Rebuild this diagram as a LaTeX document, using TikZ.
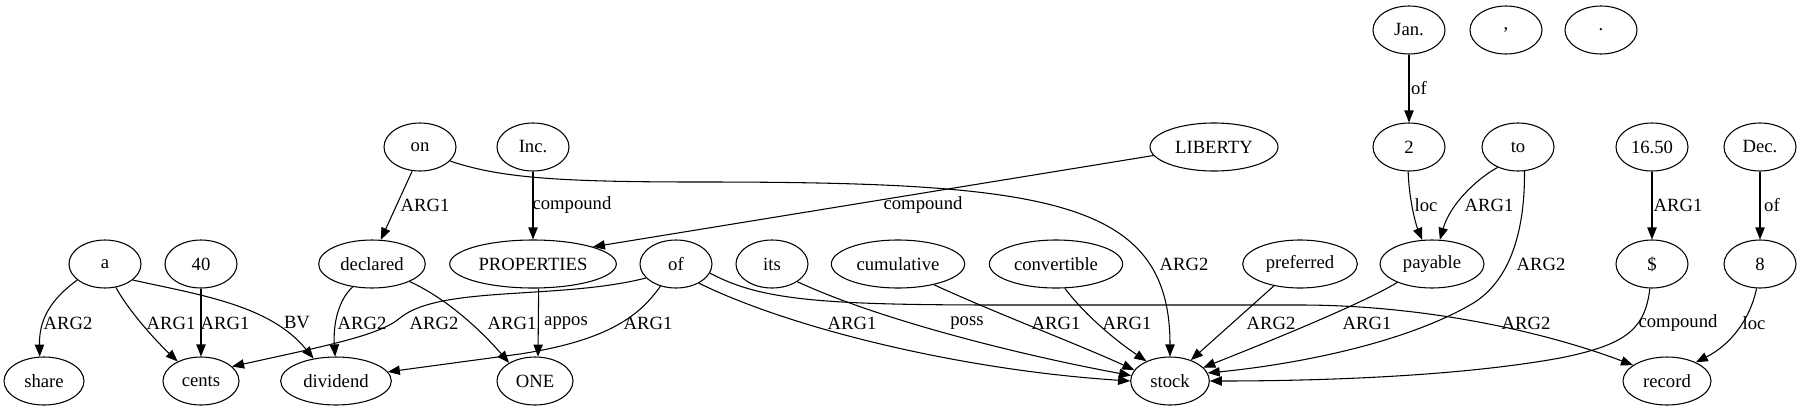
\documentclass[tikz,border=0pt]{standalone}
\usepackage{fontspec}
\setmainfont{Liberation Serif}
\usetikzlibrary{shapes.geometric,arrows.meta}
\begin{document}
\begin{tikzpicture}[x=0.75pt,y=-0.75pt,
  nd/.style={draw, ellipse, inner sep=0pt, minimum height=36pt, minimum width=54pt, line width=0.8pt, font=\fontsize{14}{16}\selectfont},
  wd/.style={minimum width=#1pt},
  conn/.style={line width=0.8pt, -{Triangle[length=9pt,width=7pt]}},
  lab/.style={inner sep=0pt, font=\fontsize{14}{16}\selectfont}]
\useasboundingbox (0,0) rectangle (1803,411);
% row 4
\node[nd] (jan) at (1409,30) {Jan.};
\node[nd] (comma) at (1506,30) {,};
\node[nd] (period) at (1601,30) {.};
% row 3
\node[nd] (on) at (420,147) {on};
\node[nd] (inc) at (533,147) {Inc.};
\node[nd,wd=96] (liberty) at (1214,147) {LIBERTY};
\node[nd] (two) at (1409,147) {2};
\node[nd] (to) at (1518,147) {to};
\node[nd] (n1650) at (1652,147) {16.50};
\node[nd] (dec) at (1760,147) {Dec.};
% row 2
\node[nd] (a) at (105,264) {a};
\node[nd] (forty) at (201,264) {40};
\node[nd,wd=80] (declared) at (372,264) {declared};
\node[nd,wd=125] (props) at (533,264) {PROPERTIES};
\node[nd] (of) at (676,264) {of};
\node[nd] (its) at (772,264) {its};
\node[nd,wd=100] (cumul) at (898,264) {cumulative};
\node[nd,wd=100] (conv) at (1056,264) {convertible};
\node[nd,wd=86] (pref) at (1300,264) {preferred};
\node[nd,wd=78] (payable) at (1432,264) {payable};
\node[nd] (dollar) at (1652,264) {\$};
\node[nd] (eight) at (1760,264) {8};
% row 1
\node[nd,wd=60] (share) at (44,381) {share};
\node[nd,wd=57] (cents) at (201,381) {cents};
\node[nd,wd=83] (dividend) at (336,381) {dividend};
\node[nd,wd=57] (one) at (535,381) {ONE};
\node[nd,wd=59] (stock) at (1170,381) {stock};
\node[nd,wd=66] (record) at (1667,381) {record};

% edges
\draw[conn] (a.210) .. controls (50,300) and (39,320) .. (share.100);
\draw[conn] (a.295) .. controls (128,310) and (155,340) .. (cents.140);
\draw[conn] (a.330) .. controls (200,295) and (270,305) .. (dividend.135);
\draw[conn] (forty) -- (cents);
\draw[conn] (declared.230) .. controls (338,300) and (333,325) .. (dividend.92);
\draw[conn] (declared.335) .. controls (450,300) and (485,335) .. (one.145);
\draw[conn] (props.283) -- (one.83);
\draw[conn] (of.205) .. controls (560,300) and (440,285) .. (400,318) .. controls (380,335) and (330,345) .. (cents.25);
\draw[conn] (of.235) .. controls (640,315) and (610,340) .. (520,354) -- (dividend.10);
\draw[conn] (of.320) .. controls (790,328) and (960,370) .. (stock.180);
\draw[conn] (of.345) .. controls (760,300) and (820,305) .. (1000,305) -- (1300,305) .. controls (1420,305) and (1540,330) .. (record.155);
\draw[conn] (its.325) .. controls (880,320) and (1020,355) .. (stock.172);
\draw[conn] (cumul.330) .. controls (1000,315) and (1080,345) .. (stock.163);
\draw[conn] (conv.290) .. controls (1085,315) and (1115,340) .. (stock.140);
\draw[conn] (on.335) .. controls (500,178) and (560,182) .. (700,182) .. controls (1050,182) and (1170,200) .. (stock.north);
\draw[conn] (on.252) -- (declared.70);
\draw[conn] (inc) -- (props);
\draw[conn] (liberty.188) -- (props.16);
\draw[conn] (jan) -- (two);
\draw[conn] (two.268) .. controls (1409,200) and (1416,225) .. (payable.112);
\draw[conn] (to.225) .. controls (1475,180) and (1450,205) .. (payable.72);
\draw[conn] (to.285) .. controls (1525,220) and (1515,280) .. (1470,305) .. controls (1400,345) and (1290,365) .. (stock.12);
\draw[conn] (pref.220) -- (stock.45);
\draw[conn] (payable.208) .. controls (1360,305) and (1260,345) .. (stock.22);
\draw[conn] (dollar.265) .. controls (1645,330) and (1625,345) .. (1560,358) .. controls (1450,378) and (1300,381) .. (stock.0);
\draw[conn] (n1650) -- (dollar);
\draw[conn] (dec) -- (eight);
\draw[conn] (eight.262) .. controls (1750,320) and (1730,345) .. (record.33);

% labels
\node[lab] (l1) at (68,323) {ARG2};
\node[lab] (l2) at (171,323) {ARG1};
\node[lab] (l3) at (225,323) {ARG1};
\node[lab] (l4) at (297,323) {BV};
\node[lab] (l5) at (362,323) {ARG2};
\node[lab] (l6) at (434,323) {ARG2};
\node[lab] (l7) at (512,323) {ARG1};
\node[lab] (l8) at (566,323) {appos};
\node[lab] (l9) at (648,323) {ARG1};
\node[lab] (l10) at (852,323) {ARG1};
\node[lab] (l11) at (967,323) {poss};
\node[lab] (l12) at (1056,323) {ARG1};
\node[lab] (l13) at (1127,323) {ARG1};
\node[lab] (l14) at (1184,264) {ARG2};
\node[lab] (l15) at (1271,323) {ARG2};
\node[lab] (l16) at (1367,323) {ARG1};
\node[lab] (l17) at (1541,264) {ARG2};
\node[lab] (l18) at (1526,323) {ARG2};
\node[lab] (l19) at (1678,323) {compound};
\node[lab] (l20) at (1754,323) {loc};
\node[lab] (l21) at (425,205) {ARG1};
\node[lab] (l22) at (572,205) {compound};
\node[lab] (l23) at (923,205) {compound};
\node[lab] (l24) at (1419,88) {of};
\node[lab] (l25) at (1426,205) {loc};
\node[lab] (l26) at (1489,205) {ARG1};
\node[lab] (l27) at (1678,205) {ARG1};
\node[lab] (l28) at (1772,205) {of};
\end{tikzpicture}
\end{document}
